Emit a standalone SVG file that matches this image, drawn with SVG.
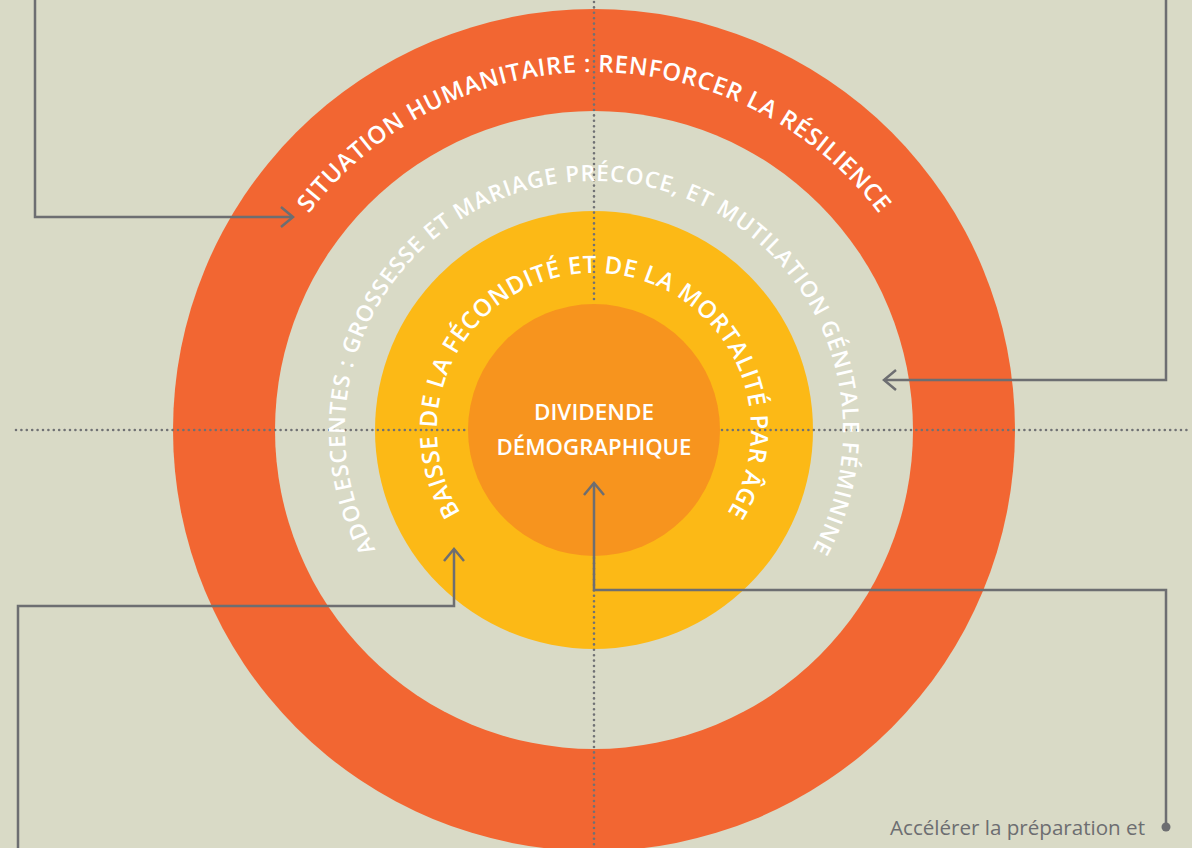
<svg xmlns="http://www.w3.org/2000/svg" xmlns:xlink="http://www.w3.org/1999/xlink" width="1192" height="848" viewBox="0 0 1192 848">
  <style>
    .conn { fill: none; stroke: #6d6e71; stroke-width: 2.5; }
    .dots { fill: none; stroke: #707174; stroke-width: 2.6; stroke-linecap: round; stroke-dasharray: 0 5.4; }
    .arc { font-family: "Open Sans", "Noto Sans", sans-serif; font-weight: 600; fill: #ffffff; }
    .center { font-family: "Open Sans", "Noto Sans", sans-serif; font-weight: 600; font-size: 21px; fill: #ffffff; text-anchor: middle; }
    .note { font-family: "Open Sans", "Noto Sans", sans-serif; font-weight: 400; font-size: 20px; fill: #6d6e71; }
  </style>
  <defs>
    <marker id="chev" markerUnits="userSpaceOnUse" markerWidth="16" markerHeight="24" refX="13" refY="11" orient="auto">
      <path d="M1,1 L13,11 L1,21" fill="none" stroke="#6d6e71" stroke-width="2.5"/>
    </marker>
    <path id="pOuter" d="M 236,430 A 358 358 0 0 1 952,430"/>
    <path id="pBeige" d="M 594,679 A 249 249 0 1 1 594,181 A 249 249 0 1 1 594,679"/>
    <path id="pYellow" d="M 594,587 A 157 157 0 1 1 594,273 A 157 157 0 1 1 594,587"/>
  </defs>

  <rect width="1192" height="848" fill="#d9dac6"/>

  <g id="ring-humanitaire">
    <circle cx="594" cy="430" r="421" fill="#f26632"/>
  </g>
  <g id="ring-adolescentes">
    <circle cx="594" cy="430" r="319" fill="#d9dac6"/>
  </g>
  <g id="ring-baisse">
    <circle cx="594" cy="430" r="219" fill="#fcb916"/>
  </g>

  <g id="guides">
    <line class="dots" x1="16" y1="430" x2="466" y2="430"/>
    <line class="dots" x1="722" y1="430" x2="1190" y2="430"/>
    <line class="dots" x1="594" y1="2" x2="594" y2="302"/>
    <line class="dots" x1="594" y1="558" x2="594" y2="848"/>
  </g>

  <g id="dividende">
    <circle cx="594" cy="430" r="126" fill="#f7941e"/>
    <text class="center" x="594" y="420" textLength="120" lengthAdjust="spacingAndGlyphs">DIVIDENDE</text>
    <text class="center" x="594" y="455" textLength="195" lengthAdjust="spacingAndGlyphs">DÉMOGRAPHIQUE</text>
  </g>

  <g id="label-humanitaire">
    <text class="arc" font-size="24" textLength="660" lengthAdjust="spacing"><textPath xlink:href="#pOuter" href="#pOuter" startOffset="50%" text-anchor="middle">SITUATION HUMANITAIRE : RENFORCER LA RÉSILIENCE</textPath></text>
  </g>
  <g id="label-adolescentes">
    <text class="arc" font-size="22.5" textLength="1032" lengthAdjust="spacing"><textPath xlink:href="#pBeige" href="#pBeige" startOffset="50%" text-anchor="middle">ADOLESCENTES : GROSSESSE ET MARIAGE PRÉCOCE, ET MUTILATION GÉNITALE FÉMININE</textPath></text>
  </g>
  <g id="label-baisse">
    <text class="arc" font-size="24" textLength="668" lengthAdjust="spacing"><textPath xlink:href="#pYellow" href="#pYellow" startOffset="50%" text-anchor="middle">BAISSE DE LA FÉCONDITÉ ET DE LA MORTALITÉ PAR ÂGE</textPath></text>
  </g>

  <g id="connectors">
    <path class="conn" d="M 35,0 V 217 H 293" marker-end="url(#chev)"/>
    <path class="conn" d="M 1166,0 V 380 H 884" marker-end="url(#chev)"/>
    <path class="conn" d="M 18,848 V 606 H 454 V 549" marker-end="url(#chev)"/>
    <path class="conn" d="M 1166,827 V 590 H 594 V 483" marker-end="url(#chev)"/>
    <circle cx="1166" cy="827" r="4.5" fill="#6d6e71"/>
  </g>

  <g id="note">
    <text class="note" x="890" y="835" textLength="255" lengthAdjust="spacingAndGlyphs">Accélérer la préparation et</text>
  </g>
</svg>
